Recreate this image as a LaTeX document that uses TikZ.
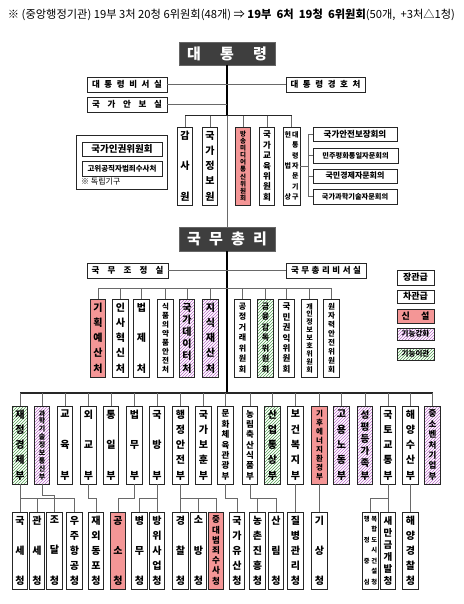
\documentclass[tikz,border=0pt]{standalone}
\usepackage{fontspec}
\setmainfont{Noto Sans CJK KR}
\usetikzlibrary{patterns}
\definecolor{pk}{RGB}{244,150,150}
\definecolor{dk}{RGB}{62,62,62}
\definecolor{ln}{RGB}{105,105,105}
\definecolor{hp}{RGB}{185,105,200}
\definecolor{hg}{RGB}{80,160,80}
\newcommand\fs[1]{\fontsize{#1}{#1}\selectfont}
\ExplSyntaxOn
\NewDocumentCommand\VT{mmm}{
  \seq_clear:N \l_tmpa_seq
  \tl_map_inline:nn {#3} { \seq_put_right:Nn \l_tmpa_seq {##1} }
  \parbox[c][#2][s]{20pt}{\centering\fontsize{#1}{#1}\selectfont\bfseries \seq_use:Nn \l_tmpa_seq {\par\vfill} \par}
}
\NewDocumentCommand\HT{mm}{
  \seq_clear:N \l_tmpa_seq
  \tl_map_inline:nn {#2} { \seq_put_right:Nn \l_tmpa_seq {##1} }
  \makebox[#1][s]{\seq_use:Nn \l_tmpa_seq {\hfill}}
}
\ExplSyntaxOff
\newcommand\Row[3]{\hbox to #1{\hss\makebox[7.5pt]{#2}\makebox[7.5pt]{#3}\hss}}
\newcommand\R[7]{\node[#6, minimum width={#4pt-#2pt}, minimum height={#5pt-#3pt}] (#1) at ({(#2+#4)/2},{(#3+#5)/2}) {#7};}
\newcommand\V[7]{\node[#5, minimum width=15.5pt, minimum height={#4pt-#3pt}] (#1) at (#2,{(#3+#4)/2}) {\makebox[0pt]{\VT{#6}{\dimexpr#4pt-#3pt-9pt\relax}{#7}}};}
\tikzset{
  bx/.style={draw=black!85, line width=0.8pt, fill=white, inner sep=0pt, font=\bfseries},
  pinkbx/.style={bx, fill=pk},
  purbx/.style={draw=black!85, line width=0.8pt, inner sep=0pt, font=\bfseries, pattern=north east lines, pattern color=hp},
  grnbx/.style={draw=black!85, line width=0.8pt, inner sep=0pt, font=\bfseries, pattern=north east lines, pattern color=hg},
  darkbx/.style={draw=black!60, line width=0.8pt, fill=dk, text=white, inner sep=0pt, font=\bfseries},
  conn/.style={draw=ln, line width=0.9pt},
  mainln/.style={draw=black, line width=1.8pt},
  busln/.style={draw=black!85, line width=1.3pt}
}
\begin{document}
\begin{tikzpicture}[x=1pt,y=-1pt]
\useasboundingbox (0,0) rectangle (463,604);
% header
\node[font=\fs{10.5}, inner sep=0pt] (hdr) at (231.5,15) {\resizebox{447pt}{!}{※ (중앙행정기관) 19부 3처 20청 6위원회(48개) ⇒ \textbf{19부\ \ 6처\ \ 19청\ \ 6위원회}(50개,\ \ +3처△1청)}};
% president
\R{pres}{179}{42}{275}{65}{darkbx}{\fs{15}\HT{80pt}{대통령}}
\R{sec}{87}{77}{167}{92}{bx}{\fs{8.5}\HT{70pt}{대통령비서실}}
\R{pss}{286}{77}{365}{92}{bx}{\fs{8.5}\HT{70pt}{대통령경호처}}
\R{nsa}{87}{97}{167}{112}{bx}{\fs{8.5}\HT{70pt}{국가안보실}}
% independent
\R{indep}{76}{135}{167}{189}{draw=black!85, line width=0.8pt, inner sep=0pt}{}
\R{nhrc}{82}{142}{162}{156}{bx}{\fs{9.5}국가인권위원회}
\R{cio}{82}{161}{162}{176}{bx}{\fs{7.5}고위공직자범죄수사처}
\node[anchor=west, inner sep=0pt, font=\fs{8}] (indnote) at (81,182) {※ 독립기구};
% top agencies
\V{gam}{185}{127}{205}{bx}{10}{감사원}
\V{nis}{210}{127}{205}{bx}{10}{국가정보원}
\V{kmcc}{243}{127}{205}{pinkbx}{6.5}{방송미디어통신위원회}
\V{nec}{267}{127}{205}{bx}{8.5}{국가교육위원회}
\node[bx, minimum width=17pt, minimum height=78pt] (adv) at (291.5,166) {\makebox[0pt]{\parbox[c][68pt][s]{17pt}{\fs{7}\Row{17pt}{헌}{대}\par\vfill\Row{17pt}{}{통}\par\vfill\Row{17pt}{}{령}\par\vfill\Row{17pt}{법}{자}\par\vfill\Row{17pt}{}{문}\par\vfill\Row{17pt}{}{기}\par\vfill\Row{17pt}{상}{구}}}};
% councils
\R{c1}{313}{127}{397}{141}{bx}{\fs{8.5}국가안전보장회의}
\R{c2}{313}{148}{398}{163}{bx}{\fs{7.2}민주평화통일자문회의}
\R{c3}{313}{169}{397}{183}{bx}{\fs{8}국민경제자문회의}
\R{c4}{313}{189}{397}{204}{bx}{\fs{7.2}국가과학기술자문회의}
% prime minister
\R{pm}{179}{227}{275}{251}{darkbx}{\fs{15}\HT{80pt}{국무총리}}
\R{opc}{87}{263}{168}{278}{bx}{\fs{8.5}\HT{72pt}{국무조정실}}
\R{pmo}{286}{263}{366}{278}{bx}{\fs{8.5}\HT{70pt}{국무총리비서실}}
% legend
\R{lg1}{397}{270}{434}{285}{bx}{\fs{9}장관급}
\R{lg2}{397}{290}{434}{303}{bx}{\fs{9}차관급}
\R{lg3}{397}{309}{434}{323}{pinkbx}{\fs{9}\HT{28pt}{신설}}
\R{lg4}{397}{328}{434}{340}{purbx}{\fs{7.5}기능강화}
\R{lg5}{397}{348}{434}{360}{grnbx}{\fs{7.5}기능이관}
% bureaus
\V{b1}{98}{299}{377}{pinkbx}{10}{기획예산처}
\V{b2}{120.5}{299}{377}{bx}{10}{인사혁신처}
\V{b3}{141.5}{299}{377}{bx}{10}{법제처}
\V{b4}{165.5}{299}{377}{bx}{7.5}{식품의약품안전처}
\V{b5}{187}{299}{377}{purbx}{10}{국가데이터처}
\V{b6}{210.5}{299}{377}{purbx}{10}{지식재산처}
\V{b7}{242.5}{299}{377}{bx}{8}{공정거래위원회}
\V{b8}{265.5}{299}{377}{grnbx}{8}{금융감독위원회}
\V{b9}{286.5}{299}{377}{bx}{8.5}{국민권익위원회}
\V{b10}{309.5}{299}{377}{bx}{7}{개인정보보호위원회}
\V{b11}{331.5}{299}{377}{bx}{7.5}{원자력안전위원회}
% ministries
\V{m1}{20}{406}{484}{grnbx}{10}{재정경제부}
\V{m2}{42}{406}{484}{purbx}{7}{과학기술정보통신부}
\V{m3}{65}{406}{484}{bx}{10}{교육부}
\V{m4}{88.5}{406}{484}{bx}{10}{외교부}
\V{m5}{111}{406}{484}{bx}{10}{통일부}
\V{m6}{134.5}{406}{484}{bx}{10}{법무부}
\V{m7}{157}{406}{484}{bx}{10}{국방부}
\V{m8}{180.5}{406}{484}{bx}{10}{행정안전부}
\V{m9}{203.5}{406}{484}{bx}{10}{국가보훈부}
\V{m10}{225.5}{406}{484}{bx}{8.5}{문화체육관광부}
\V{m11}{250}{406}{484}{bx}{8.5}{농림축산식품부}
\V{m12}{272.5}{406}{484}{grnbx}{10}{산업통상부}
\V{m13}{295.5}{406}{484}{bx}{10}{보건복지부}
\V{m14}{319.5}{406}{484}{pinkbx}{7.5}{기후에너지환경부}
\V{m15}{341.5}{406}{484}{purbx}{10}{고용노동부}
\V{m16}{365}{406}{484}{purbx}{9.5}{성평등가족부}
\V{m17}{388}{406}{484}{bx}{10}{국토교통부}
\V{m18}{410.5}{406}{484}{bx}{10}{해양수산부}
\V{m19}{432.5}{406}{484}{purbx}{8.5}{중소벤처기업부}
% agencies
\V{a1}{20}{512}{589}{bx}{10}{국세청}
\V{a2}{37}{512}{589}{bx}{10}{관세청}
\V{a3}{54.5}{512}{589}{bx}{10}{조달청}
\V{a4}{74.5}{512}{589}{bx}{10}{우주항공청}
\V{a5}{96}{512}{589}{bx}{10}{재외동포청}
\V{a6}{118}{512}{589}{pinkbx}{10}{공소청}
\V{a7}{139.5}{512}{589}{bx}{10}{병무청}
\V{a8}{157}{512}{589}{bx}{10}{방위사업청}
\V{a9}{180.5}{512}{589}{bx}{10}{경찰청}
\V{a10}{198.5}{512}{589}{bx}{10}{소방청}
\V{a11}{216}{512}{589}{pinkbx}{8.5}{중대범죄수사청}
\V{a12}{237}{512}{589}{bx}{10}{국가유산청}
\V{a13}{257.5}{512}{589}{bx}{10}{농촌진흥청}
\V{a14}{276}{512}{589}{bx}{10}{산림청}
\V{a15}{295.5}{512}{589}{bx}{10}{질병관리청}
\V{a16}{319.5}{512}{589}{bx}{10}{기상청}
\node[bx, minimum width=15.5pt, minimum height=77pt] (a17) at (370.5,550.5) {\makebox[0pt]{\parbox[c][68pt][s]{16pt}{\fs{6.3}\Row{16pt}{행}{복}\par\vfill\Row{16pt}{}{합}\par\vfill\Row{16pt}{정}{도}\par\vfill\Row{16pt}{}{시}\par\vfill\Row{16pt}{중}{건}\par\vfill\Row{16pt}{}{설}\par\vfill\Row{16pt}{심}{청}}}};
\V{a18}{388}{512}{589}{bx}{9.5}{새만금개발청}
\V{a19}{410.5}{512}{589}{bx}{10}{해양경찰청}
% ---- connectors ----
\coordinate (TB) at (0,116);
\coordinate (BB) at (0,288);
\coordinate (MB) at (0,393);
\coordinate (J) at (0,498.5);
\coordinate (J2) at (0,495.5);
\coordinate (BR) at (308,0);
\draw[mainln] (pres.south) -- (pres.south|-TB);
\draw[conn] (pres.south|-TB) -- (pm.north);
\draw[mainln] (pm.south) -- (pm.south|-MB);
\draw[conn] (sec.east) -- (sec.east-|pres.south);
\draw[conn] (pss.west) -- (pss.west-|pres.south);
\draw[conn] (nsa.east) -- (nsa.east-|pres.south);
\draw[busln, line width=1pt] (gam.north|-TB) -- (adv.north|-TB);
\foreach \n in {gam,nis,kmcc,nec,adv} \draw[conn] (\n.north|-TB) -- (\n.north);
\draw[conn] (adv.east) -- (adv.east-|BR);
\draw[conn] (c1.west-|BR) -- (c4.west-|BR);
\foreach \n in {c1,c2,c3,c4} \draw[conn] (\n.west-|BR) -- (\n.west);
\draw[conn] (opc.east) -- (opc.east-|pm.south);
\draw[conn] (pmo.west) -- (pmo.west-|pm.south);
\draw[conn] (b1.north|-BB) -- (b11.north|-BB);
\foreach \n in {b1,b2,b3,b4,b5,b6,b7,b8,b9,b10,b11} \draw[conn] (\n.north|-BB) -- (\n.north);
\draw[busln] (m1.north|-MB) -- (m19.north|-MB);
\foreach \n in {m1,m2,m3,m4,m5,m6,m7,m8,m9,m10,m11,m12,m13,m14,m15,m16,m17,m18,m19} \draw[conn] (\n.north|-MB) -- (\n.north);
% ministry -> agency
\draw[conn] (m1.south) -- (a1.north);
\draw[conn] (a1.north|-J) -- (a3.north|-J) -- (a3.north);
\draw[conn] (a2.north|-J) -- (a2.north);
\draw[conn] (m2.south) -- (m2.south|-J2) -- (a3.north|-J2) -- (a3.north|-J) -- (a4.north|-J) -- (a4.north);
\draw[conn] (m4.south) -- (m4.south|-J) -- (a5.north|-J) -- (a5.north);
\draw[conn] (m6.south) -- (m6.south|-J) -- (a6.north|-J) -- (a6.north);
\draw[conn] (m7.south) -- (a8.north);
\draw[conn] (a7.north) -- (a7.north|-J) -- (a8.north|-J);
\draw[conn] (m8.south) -- (a9.north);
\draw[conn] (a9.north|-J) -- (a11.north|-J) -- (a11.north);
\draw[conn] (a10.north|-J) -- (a10.north);
\draw[conn] (m10.south) -- (m10.south|-J) -- (a12.north|-J) -- (a12.north);
\draw[conn] (m11.south) -- (m11.south|-J) -- (a14.north|-J) -- (a14.north);
\draw[conn] (a13.north|-J) -- (a13.north);
\draw[conn] (m13.south) -- (a15.north);
\draw[conn] (m14.south) -- (a16.north);
\draw[conn] (m17.south) -- (a18.north);
\draw[conn] (a17.north) -- (a17.north|-J) -- (a18.north|-J);
\draw[conn] (m18.south) -- (a19.north);
\end{tikzpicture}
\end{document}
